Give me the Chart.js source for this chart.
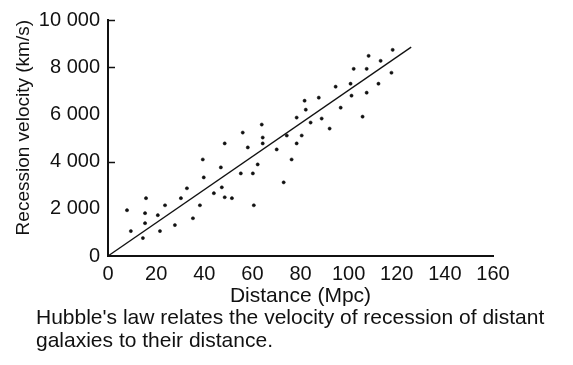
<!DOCTYPE html>
<html>
<head>
<meta charset="utf-8">
<script src="https://cdn.jsdelivr.net/npm/chart.js@4.4.0/dist/chart.umd.min.js"></script>
<style>
  html, body { margin: 0; padding: 0; background: #fff; }
  #wrap { position: relative; width: 573px; height: 365px; overflow: hidden; }
  #caption { position: absolute; left: 36px; top: 305px; margin: 0;
    font: 21px "Liberation Sans", Arial, sans-serif; line-height: 23px; color: #111; }
</style>
</head>
<body>
<div id="wrap">
  <canvas id="chart" width="573" height="310"></canvas>
  <p id="caption">Hubble's law relates the velocity of recession of distant<br>galaxies to their distance.</p>
</div>
<script>
// --- Data ---
const distances = [7.9, 9.5, 14.5, 15.8, 15.4, 15.4, 21.6, 20.7, 23.7, 27.8, 30.3, 32.8, 35.3, 38.2, 39.4, 39.8,
  44.0, 46.9, 47.3, 48.5, 51.5, 48.5, 56.0, 58.1, 55.2, 60.2, 62.2, 60.6, 63.9, 64.3, 64.3, 70.1, 73.0, 74.3,
  76.3, 78.4, 78.4, 80.5, 81.7, 82.2, 84.2, 87.6, 88.8, 92.1, 94.6, 96.7, 100.8, 102.1, 101.2, 105.8, 107.5,
  107.5, 108.3, 112.4, 113.3, 117.8, 118.3];
const velocities = [1940, 1055, 760, 2450, 1815, 1390, 1055, 1730, 2150, 1310, 2450, 2870, 1600, 2150, 4090, 3330,
  2660, 3755, 2910, 2490, 2450, 4770, 5230, 4600, 3500, 3500, 3880, 2150, 5570, 5020, 4770, 4515, 3120, 5105,
  4090, 5865, 4770, 5105, 6580, 6200, 5655, 6710, 5825, 5400, 7175, 6285, 7300, 7930, 6795, 5905, 7930,
  6920, 8480, 7300, 8270, 7765, 8735];
const fitX = [0, 126];
const fitY = [0, 8850];
const xRange = [0, 160];
const yRange = [0, 10000];
const yTickMarks = [10000, 8000, 4000];

const FONT = '"Liberation Sans", Arial, sans-serif';
const INK = '#111';

function spaced(v){ return String(v).replace(/\B(?=(\d{3})+(?!\d))/g, ' '); }

// short tick marks drawn inward from the y axis
const innerTicks = {
  id: 'innerTicks',
  afterDraw(chart){
    const {ctx, scales:{x, y}} = chart;
    ctx.save();
    ctx.strokeStyle = INK; ctx.lineWidth = 1.5;
    yTickMarks.forEach(v=>{
      const py = Math.round(y.getPixelForValue(v)) + 0.5;
      ctx.beginPath(); ctx.moveTo(x.left, py); ctx.lineTo(x.left + 7, py); ctx.stroke();
    });
    ctx.restore();
  }
};

new Chart(document.getElementById('chart'), {
  type: 'scatter',
  data: {
    datasets: [
      { type: 'line', data: fitX.map((x,i)=>({x, y: fitY[i]})), borderColor: INK, borderWidth: 1.3,
        pointRadius: 0, fill: false, tension: 0 },
      { data: distances.map((x,i)=>({x, y: velocities[i]})), backgroundColor: INK, borderColor: INK,
        pointRadius: 1.6, borderWidth: 0.5 }
    ]
  },
  plugins: [innerTicks],
  options: {
    responsive: false, animation: false, devicePixelRatio: 1,
    layout: { padding: { left: 0, right: 80, top: 19, bottom: 0 } },
    plugins: { legend: { display: false }, tooltip: { enabled: false } },
    scales: {
      x: {
        type: 'linear', min: xRange[0], max: xRange[1],
        ticks: { stepSize: 20, color: INK, padding: 6, maxRotation: 0, font: { family: FONT, size: 20 } },
        grid: { display: false, drawTicks: false },
        border: { display: true, color: INK, width: 2 },
        title: { display: true, text: 'Distance (Mpc)', color: INK, padding: { top: 0, bottom: 1 },
          font: { family: FONT, size: 21 } },
        afterFit(s){ s.height = 54; }
      },
      y: {
        type: 'linear', min: yRange[0], max: yRange[1],
        ticks: { stepSize: 2000, color: INK, padding: 8, font: { family: FONT, size: 20 }, callback: v=>spaced(v) },
        grid: { display: false, drawTicks: false },
        border: { display: true, color: INK, width: 2 },
        title: { display: true, text: 'Recession velocity (km/s)', align: 'end', color: INK,
          padding: { top: 12, bottom: 0 }, font: { family: FONT, size: 19 } },
        afterFit(s){ s.width = 108; }
      }
    }
  }
});
</script>
</body>
</html>
